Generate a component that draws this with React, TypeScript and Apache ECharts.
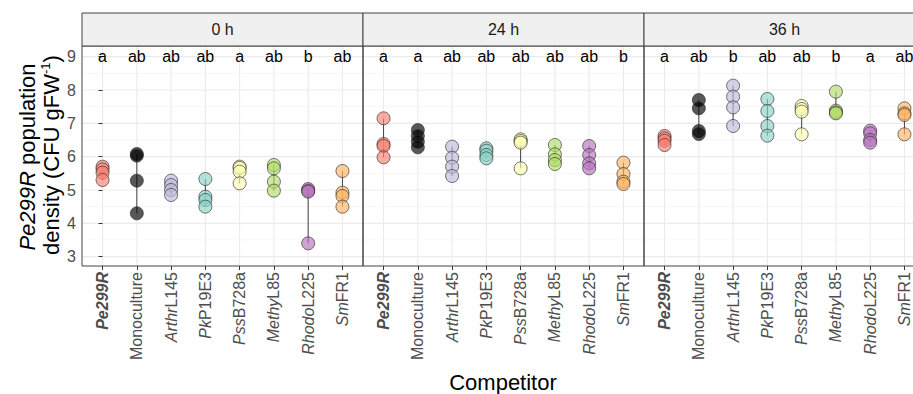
import React, { useEffect, useRef } from 'react';
import * as echarts from 'echarts';

const competitors = ['Pe299R', 'Monoculture', 'ArthrL145', 'PkP19E3', 'PssB728a', 'MethyL85', 'RhodoL225', 'SmFR1'];
const italicPart = ['Pe299R', '', 'Arthr', 'Pk', 'Pss', 'Methy', 'Rhodo', 'Sm'];
const timePoints = ['0 h', '24 h', '36 h'];
const competitorColors = [
  'rgba(251,128,114,0.82)',
  'rgba(0,0,0,0.82)',
  'rgba(190,186,218,0.82)',
  'rgba(141,211,199,0.82)',
  'rgba(255,255,179,0.82)',
  'rgba(179,222,105,0.82)',
  'rgba(182,116,190,0.82)',
  'rgba(253,180,98,0.82)',
];

const density0h = [
  [5.70, 5.62, 5.52, 5.30],
  [6.08, 6.03, 5.28, 4.30],
  [5.28, 5.15, 5.00, 4.85],
  [5.33, 4.80, 4.70, 4.50],
  [5.70, 5.66, 5.55, 5.20],
  [5.75, 5.65, 5.25, 4.98],
  [5.03, 4.98, 4.95, 3.40],
  [5.57, 4.92, 4.82, 4.50],
];
const density24h = [
  [7.15, 6.38, 6.32, 5.98],
  [6.80, 6.62, 6.45, 6.28],
  [6.30, 5.97, 5.70, 5.42],
  [6.25, 6.18, 6.05, 5.95],
  [6.52, 6.47, 6.42, 5.65],
  [6.35, 6.07, 5.90, 5.78],
  [6.32, 6.05, 5.80, 5.65],
  [5.82, 5.48, 5.25, 5.18],
];
const density36h = [
  [6.62, 6.55, 6.48, 6.35],
  [7.70, 7.45, 6.77, 6.68],
  [8.13, 7.80, 7.48, 6.92],
  [7.73, 7.37, 6.92, 6.63],
  [7.52, 7.43, 7.35, 6.67],
  [7.95, 7.38, 7.33, 7.30],
  [6.78, 6.70, 6.50, 6.42],
  [7.45, 7.30, 7.25, 6.67],
];
const letters0h = ['a', 'ab', 'ab', 'ab', 'a', 'ab', 'b', 'ab'];
const letters24h = ['a', 'a', 'ab', 'ab', 'ab', 'ab', 'ab', 'b'];
const letters36h = ['a', 'ab', 'b', 'ab', 'ab', 'b', 'a', 'ab'];
const yTicks = [3, 4, 5, 6, 7, 8, 9];
const yMinor = [3.5, 4.5, 5.5, 6.5, 7.5, 8.5];
const letterLevel = 9;

const panelData = [density0h, density24h, density36h];
const panelLetters = [letters0h, letters24h, letters36h];

const FONT = '"Liberation Sans", Arial, Helvetica, sans-serif';
const PANEL_LEFT = [82, 363, 644];
const PANEL_W = 281;
const PANEL_TOP = 46;
const PANEL_H = 220;
const STRIP_TOP = 13;
const X_MIN = -0.6;
const X_MAX = 7.6;
const Y_MIN = 2.72;
const Y_MAX = 9.32;

function xLabel(i: number): string {
  const name = competitors[i];
  const it = italicPart[i];
  if (i === 0) return '{bi|' + name + '}';
  if (!it) return '{n|' + name + '}';
  return '{i|' + it + '}{n|' + name.slice(it.length) + '}';
}

export default function App() {
  const ref = useRef<HTMLDivElement>(null);
  useEffect(() => {
    if (!ref.current) return;
    const chart = echarts.init(ref.current, undefined, { renderer: 'svg' });
    const catIdx = competitors.map((_, i) => i);

    const grids: any[] = [];
    const xAxes: any[] = [];
    const yAxes: any[] = [];
    const series: any[] = [];

    for (let g = 0; g < 3; g++) {
      grids.push({
        left: PANEL_LEFT[g], top: PANEL_TOP, width: PANEL_W, height: PANEL_H, show: false,
      });
      xAxes.push({
        type: 'value', gridIndex: g, min: X_MIN, max: X_MAX,
        axisLine: { show: false },
        splitLine: { show: false },
        axisTick: { show: true, customValues: catIdx, length: 4, lineStyle: { color: '#333', width: 1 } },
        axisLabel: {
          show: true, customValues: catIdx, rotate: 90, margin: 6,
          color: '#4D4D4D', fontSize: 16, fontFamily: FONT,
          formatter: (v: number) => xLabel(Math.round(v)),
          rich: {
            n: { fontSize: 16, color: '#4D4D4D', fontFamily: FONT },
            i: { fontSize: 16, color: '#4D4D4D', fontFamily: FONT, fontStyle: 'italic' },
            bi: { fontSize: 16, color: '#4D4D4D', fontFamily: FONT, fontStyle: 'italic', fontWeight: 'bold' },
          },
        },
      });
      yAxes.push({
        type: 'value', gridIndex: g, min: Y_MIN, max: Y_MAX,
        axisLine: { show: false },
        splitLine: { show: false },
        axisTick: { show: g === 0, customValues: yTicks, length: 4, lineStyle: { color: '#333', width: 1 } },
        axisLabel: {
          show: g === 0, customValues: yTicks, margin: 6,
          color: '#4D4D4D', fontSize: 16, fontFamily: FONT,
        },
      });

      // grid lines
      series.push({
        type: 'custom', xAxisIndex: g, yAxisIndex: g, silent: true, z: 0,
        data: [[0, 5]],
        renderItem: (params: any, api: any) => {
          const children: any[] = [];
          yMinor.forEach((v) => {
            const a = api.coord([X_MIN, v]);
            const b = api.coord([X_MAX, v]);
            children.push({ type: 'line', shape: { x1: a[0], y1: a[1], x2: b[0], y2: b[1] }, style: { stroke: '#F2F2F2', lineWidth: 0.7 } });
          });
          yTicks.forEach((v) => {
            const a = api.coord([X_MIN, v]);
            const b = api.coord([X_MAX, v]);
            children.push({ type: 'line', shape: { x1: a[0], y1: a[1], x2: b[0], y2: b[1] }, style: { stroke: '#EBEBEB', lineWidth: 1.1 } });
          });
          catIdx.forEach((v) => {
            const a = api.coord([v, Y_MIN]);
            const b = api.coord([v, Y_MAX]);
            children.push({ type: 'line', shape: { x1: a[0], y1: a[1], x2: b[0], y2: b[1] }, style: { stroke: '#EBEBEB', lineWidth: 1.1 } });
          });
          return { type: 'group', children };
        },
      });

      const dens = panelData[g];
      // ranges
      series.push({
        type: 'custom', xAxisIndex: g, yAxisIndex: g, silent: true, z: 1,
        data: dens.map((vals, i) => [i, Math.min(...vals), Math.max(...vals)]),
        encode: { x: 0, y: [1, 2] },
        renderItem: (params: any, api: any) => {
          const a = api.coord([api.value(0), api.value(1)]);
          const b = api.coord([api.value(0), api.value(2)]);
          return { type: 'line', shape: { x1: a[0], y1: a[1], x2: b[0], y2: b[1] }, style: { stroke: '#444', lineWidth: 1 } };
        },
      });
      // points
      const pts: any[] = [];
      dens.forEach((vals, i) => {
        vals.forEach((v) => {
          pts.push({ value: [i, v], itemStyle: { color: competitorColors[i] } });
        });
      });
      series.push({
        type: 'scatter', xAxisIndex: g, yAxisIndex: g, z: 2,
        symbol: 'circle', symbolSize: 13,
        itemStyle: { borderColor: 'rgba(45,45,45,0.9)', borderWidth: 0.9 },
        data: pts,
      });
      // letters
      const lets = panelLetters[g];
      series.push({
        type: 'custom', xAxisIndex: g, yAxisIndex: g, silent: true, z: 3,
        data: lets.map((_, i) => [i, letterLevel]),
        renderItem: (params: any, api: any) => {
          const p = api.coord([api.value(0), api.value(1)]);
          return {
            type: 'text', x: p[0], y: p[1],
            style: {
              text: lets[params.dataIndex], fill: '#000',
              font: '16px ' + FONT, textAlign: 'center', textVerticalAlign: 'middle', verticalAlign: 'middle',
            },
          };
        },
      });
    }

    const graphics: any[] = [];
    for (let g = 0; g < 3; g++) {
      // panel border
      graphics.push({
        type: 'rect', x: PANEL_LEFT[g], y: PANEL_TOP,
        shape: { x: 0, y: 0, width: PANEL_W, height: PANEL_H },
        style: { fill: 'none', stroke: '#444', lineWidth: 1 },
        silent: true, z: 10,
      });
      // strip
      graphics.push({
        type: 'rect', x: PANEL_LEFT[g], y: STRIP_TOP,
        shape: { x: 0, y: 0, width: PANEL_W, height: PANEL_TOP - STRIP_TOP },
        style: { fill: '#F0F0F0', stroke: '#444', lineWidth: 1 },
        z: 10,
      });
      graphics.push({
        type: 'text', x: PANEL_LEFT[g] + PANEL_W / 2, y: (STRIP_TOP + PANEL_TOP) / 2,
        style: {
          text: timePoints[g], fill: '#1A1A1A', font: '16px ' + FONT,
          textAlign: 'center', textVerticalAlign: 'middle', verticalAlign: 'middle',
        },
        z: 11,
      });
    }
    graphics.push({
      type: 'text', x: 27, y: 157, rotation: Math.PI / 2,
      style: {
        text: '{i|Pe299R}{n| population}', textAlign: 'center', textVerticalAlign: 'middle', verticalAlign: 'middle',
        rich: {
          i: { font: 'italic 22px ' + FONT, fill: '#000' },
          n: { font: '22px ' + FONT, fill: '#000' },
        },
      },
      z: 11,
    });
    graphics.push({
      type: 'text', x: 51, y: 155, rotation: Math.PI / 2,
      style: {
        text: '{n|density (CFU gFW}{s|-1}{n|)}', textAlign: 'center', textVerticalAlign: 'middle', verticalAlign: 'middle',
        rich: {
          n: { font: '22px ' + FONT, fill: '#000', lineHeight: 24 },
          s: { font: '13px ' + FONT, fill: '#000', verticalAlign: 'top', lineHeight: 14 },
        },
      },
      z: 11,
    });
    graphics.push({
      type: 'text', x: 503, y: 382,
      style: {
        text: 'Competitor', fill: '#000', font: '22px ' + FONT,
        textAlign: 'center', textVerticalAlign: 'middle', verticalAlign: 'middle',
      },
      z: 11,
    });

    chart.setOption({
      animation: false,
      backgroundColor: '#fff',
      textStyle: { fontFamily: FONT },
      grid: grids,
      xAxis: xAxes,
      yAxis: yAxes,
      series,
      graphic: graphics,
    });
    return () => chart.dispose();
  }, []);
  return (
    <div style={{ position: 'absolute', left: 0, top: 0, width: 913, height: 394, overflow: 'hidden' }}>
      <div ref={ref} style={{ position: 'absolute', left: 0, top: 0, width: 940, height: 394 }} />
    </div>
  );
}
